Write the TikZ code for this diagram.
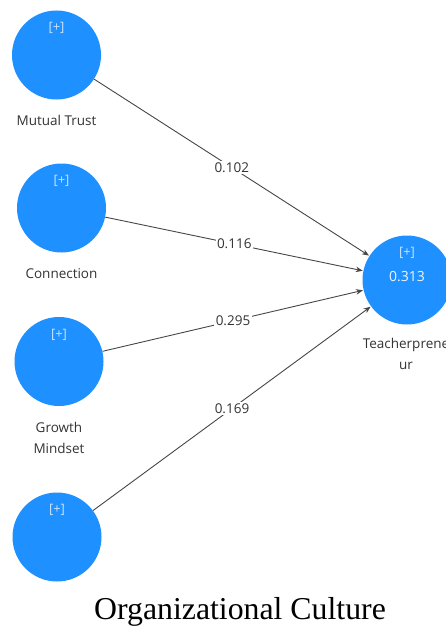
\documentclass[tikz,border=0pt]{standalone}
\usepackage{fontspec}
\setmainfont{Liberation Serif}
\newfontfamily\uifont{Open Sans}
\usetikzlibrary{arrows.meta}
\definecolor{lvblue}{RGB}{30,144,255}
\definecolor{lvplus}{RGB}{200,228,255}
\definecolor{lvtext}{RGB}{51,51,51}
\definecolor{lvline}{RGB}{70,70,70}
\tikzset{
  lv/.style={circle, fill=lvblue, minimum size=89pt, inner sep=0pt},
  plus/.style={font=\uifont\fontsize{13}{15}\selectfont, text=lvplus, inner sep=0pt},
  rsq/.style={font=\uifont\fontsize{14}{16}\selectfont, text=white!92!lvblue, inner sep=0pt},
  lvname/.style={font=\uifont\fontsize{13.5}{21}\selectfont, text=lvtext, align=center, inner sep=0pt, anchor=base},
  conn/.style={draw=lvline, line width=0.9pt, -{Stealth[length=7pt,width=5.5pt]}, shorten >=0.5pt},
  elab/.style={font=\uifont\fontsize{13.5}{15}\selectfont, text=lvtext, fill=white, inner sep=1.5pt, pos=0.5},
  title/.style={font=\fontsize{31.8}{36}\selectfont, text=black, inner sep=0pt, anchor=base}
}
\begin{document}
\begin{tikzpicture}[x=1pt, y=-1pt]
\useasboundingbox (0,0) rectangle (446,626);
\clip (0,0) rectangle (446,626);
% latent variables
\node[lv] (mt) at (56.5,55) {};
\node[lv] (cn) at (61.5,208) {};
\node[lv] (gm) at (59,361.5) {};
\node[lv] (oc) at (57,537) {};
\node[lv] (tp) at (407,280) {};
% [+] markers
\node[plus] (mtp) at (56.5,28) {[+]};
\node[plus] (cnp) at (61.5,181) {[+]};
\node[plus] (gmp) at (59,334.5) {[+]};
\node[plus] (ocp) at (57,510) {[+]};
\node[plus] (tpp) at (407,253) {[+]};
\node[rsq] (tpr) at (407,277) {0.313};
% names
\node[lvname] (mtn) at (56.5,125) {Mutual Trust};
\node[lvname] (cnn) at (61.5,278) {Connection};
\node[lvname] (gmn) at (59,453) {Growth\\Mindset};
\node[lvname] (tpn) at (406,369) {Teacherprene\\ur};
% paths
\draw[conn] (mt) -- node[elab] (e1) {0.102} (tp);
\draw[conn] (cn) -- node[elab] (e2) {0.116} (tp);
\draw[conn] (gm) -- node[elab] (e3) {0.295} (tp);
\draw[conn] (oc) -- node[elab] (e4) {0.169} (tp);
% title
\node[title] (ttl) at (240,619) {Organizational Culture};
\end{tikzpicture}
\end{document}
